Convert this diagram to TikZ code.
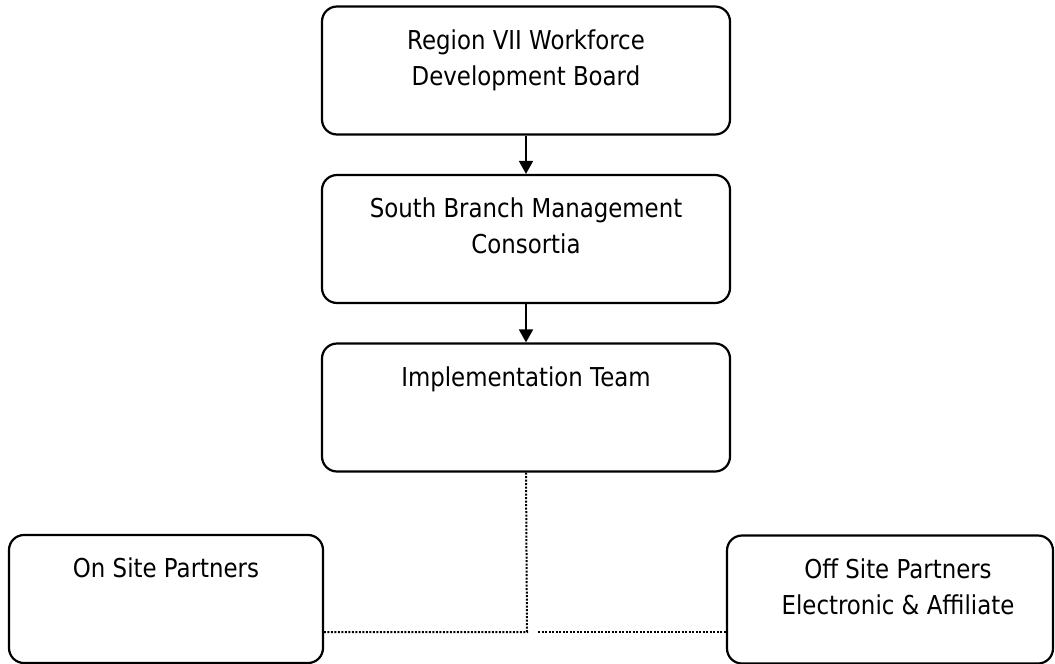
\documentclass[tikz,border=0pt]{standalone}
\usepackage{fontspec}
\setmainfont{DejaVu Sans}[FakeStretch=0.88]
\usetikzlibrary{calc, arrows.meta}
\newcommand{\boxtext}[2]{
    % #1: box name
    % #2: text
    \node[txt] (#1-txt) at ($(#1.north)+(0,24)$) {#2};
}

\begin{document}
\begin{tikzpicture}[x=1pt, y=-1pt]
    % rounded boxes of the chart
    \tikzstyle{unit}=[draw, rounded corners=15pt, line width=2.2pt, inner sep=0, minimum height=128pt]
    % text near the top of a box
    \tikzstyle{txt}=[inner sep=0, anchor=north, align=center, font=\fontsize{26}{36}\selectfont]
    \tikzstyle{link}=[line width=1.8pt, -{Triangle[length=13pt, width=14pt]}]
    \tikzstyle{dots}=[line width=2pt, dash pattern=on 2pt off 1.5pt]
    \useasboundingbox (0,0) rectangle (1055,664);
    % main column
    \node[unit, minimum width=408pt] (board) at (526,70.5) {};
    \node[unit, minimum width=408pt] (consortia) at (526,239) {};
    \node[unit, minimum width=408pt] (team) at (526,407.5) {};
    \boxtext{board}{Region VII Workforce\\Development Board}
    \boxtext{consortia}{South Branch Management\\Consortia}
    \boxtext{team}{Implementation Team}
    \draw[link] (board) -- (consortia);
    \draw[link] (consortia) -- (team);
    % partners
    \node[unit, minimum width=314pt] (onsite) at (166,599) {};
    \node[unit, minimum width=326pt] (offsite) at (890,599.5) {};
    \boxtext{onsite}{On Site Partners}
    \node[txt] (offsite-txt) at ($(offsite.north)+(8,24)$) {Off Site Partners\\Electronic \& Affiliate};
    \coordinate (split) at (527,632);
    \coordinate (gap) at (538,632);
    \draw[dots] (team.south) -- (split) -- (split -| onsite.east);
    \draw[dots] (gap) -- (gap -| offsite.west);
\end{tikzpicture}
\end{document}
